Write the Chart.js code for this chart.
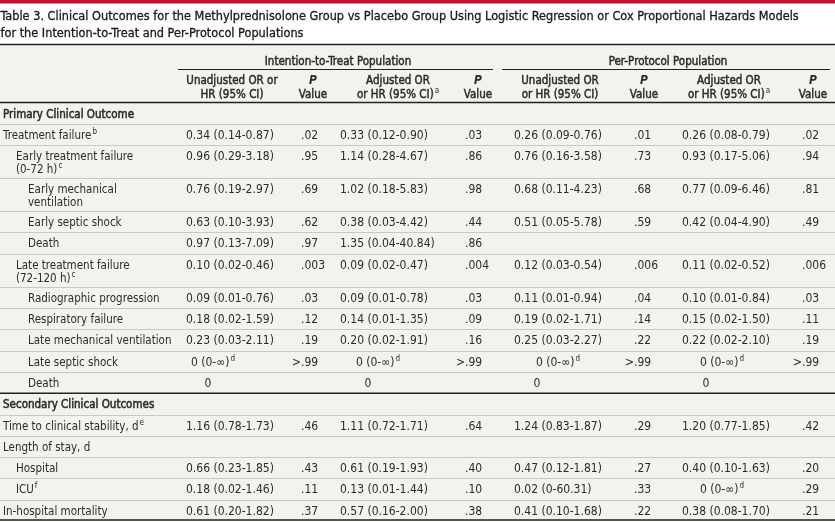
<!DOCTYPE html>
<html>
<head>
<meta charset="utf-8">
<script src="https://cdn.jsdelivr.net/npm/chart.js@4.4.1/dist/chart.umd.min.js"></script>
<style>
  body { margin: 0; background: #fff; }
  canvas { display: block; }
</style>
</head>
<body>
<canvas id="tableChart" width="835" height="522"></canvas>
<script>
// Table contents
const titleLines = [
    "Table 3. Clinical Outcomes for the Methylprednisolone Group vs Placebo Group Using Logistic Regression or Cox Proportional Hazards Models",
    "for the Intention-to-Treat and Per-Protocol Populations"
];
const groupHeaders = ["Intention-to-Treat Population", "Per-Protocol Population"];
const columnHeaders = [
    ["Unadjusted OR or", "HR (95% CI)"], ["P", "Value"],
    ["Adjusted OR", "or HR (95% CI)^a"], ["P", "Value"],
    ["Unadjusted OR", "or HR (95% CI)"], ["P", "Value"],
    ["Adjusted OR", "or HR (95% CI)^a"], ["P", "Value"]
];

// row labels, "\n" = second line, "^x" = footnote mark
const rowLabels = [
    "Primary Clinical Outcome", "Treatment failure^b", "Early treatment failure\n(0-72 h)^c",
    "Early mechanical\nventilation", "Early septic shock", "Death",
    "Late treatment failure\n(72-120 h)^c", "Radiographic progression", "Respiratory failure",
    "Late mechanical ventilation", "Late septic shock", "Death",
    "Secondary Clinical Outcomes", "Time to clinical stability, d^e", "Length of stay, d",
    "Hospital", "ICU^f", "In-hospital mortality"
];
// -1 = section heading, 0..2 = indent level
const rowLevels = [-1, 0, 1, 2, 2, 2, 1, 2, 2, 2, 2, 2, -1, 0, 0, 1, 1, 0];

const ittUnadj = ["", "0.34 (0.14-0.87)", "0.96 (0.29-3.18)", "0.76 (0.19-2.97)", "0.63 (0.10-3.93)", "0.97 (0.13-7.09)",
    "0.10 (0.02-0.46)", "0.09 (0.01-0.76)", "0.18 (0.02-1.59)", "0.23 (0.03-2.11)", "0 (0-∞)^d", "0",
    "", "1.16 (0.78-1.73)", "", "0.66 (0.23-1.85)", "0.18 (0.02-1.46)", "0.61 (0.20-1.82)"];
const ittUnadjP = ["", ".02", ".95", ".69", ".62", ".97", ".003", ".03", ".12", ".19", ">.99", "",
    "", ".46", "", ".43", ".11", ".37"];
const ittAdj = ["", "0.33 (0.12-0.90)", "1.14 (0.28-4.67)", "1.02 (0.18-5.83)", "0.38 (0.03-4.42)", "1.35 (0.04-40.84)",
    "0.09 (0.02-0.47)", "0.09 (0.01-0.78)", "0.14 (0.01-1.35)", "0.20 (0.02-1.91)", "0 (0-∞)^d", "0",
    "", "1.11 (0.72-1.71)", "", "0.61 (0.19-1.93)", "0.13 (0.01-1.44)", "0.57 (0.16-2.00)"];
const ittAdjP = ["", ".03", ".86", ".98", ".44", ".86", ".004", ".03", ".09", ".16", ">.99", "",
    "", ".64", "", ".40", ".10", ".38"];
const ppUnadj = ["", "0.26 (0.09-0.76)", "0.76 (0.16-3.58)", "0.68 (0.11-4.23)", "0.51 (0.05-5.78)", "",
    "0.12 (0.03-0.54)", "0.11 (0.01-0.94)", "0.19 (0.02-1.71)", "0.25 (0.03-2.27)", "0 (0-∞)^d", "0",
    "", "1.24 (0.83-1.87)", "", "0.47 (0.12-1.81)", "0.02 (0-60.31)", "0.41 (0.10-1.68)"];
const ppUnadjP = ["", ".01", ".73", ".68", ".59", "", ".006", ".04", ".14", ".22", ">.99", "",
    "", ".29", "", ".27", ".33", ".22"];
const ppAdj = ["", "0.26 (0.08-0.79)", "0.93 (0.17-5.06)", "0.77 (0.09-6.46)", "0.42 (0.04-4.90)", "",
    "0.11 (0.02-0.52)", "0.10 (0.01-0.84)", "0.15 (0.02-1.50)", "0.22 (0.02-2.10)", "0 (0-∞)^d", "0",
    "", "1.20 (0.77-1.85)", "", "0.40 (0.10-1.63)", "0 (0-∞)^d", "0.38 (0.08-1.70)"];
const ppAdjP = ["", ".02", ".94", ".81", ".49", "", ".006", ".03", ".11", ".19", ">.99", "",
    "", ".42", "", ".20", ".29", ".21"];

const valueColumns = [ittUnadj, ittUnadjP, ittAdj, ittAdjP, ppUnadj, ppUnadjP, ppAdj, ppAdjP];

// ---- layout (in scale units, scales span the whole canvas) ----
const FONT = "'DejaVu Sans Condensed', 'DejaVu Sans', sans-serif";
const TEXT = "#2b2b2b";
const BEIGE = "#f3f2ed";
const headerBottom = 102.5;
const rowH1 = 21.3, rowH2 = 33;
const indentX = [3, 16, 28];
const colX = [186, 301, 340, 465, 514, 634, 682, 802]; // left edge / decimal point for P
const infCenter = [213, 378, 558, 722];
const zeroX = [208, 368, 537, 706];
const headCenter = [232, 313, 398, 478, 560, 644, 729, 813];

const rowTops = [];
let yAcc = headerBottom;
rowLabels.forEach((lab) => {
    rowTops.push(yAcc);
    yAcc += lab.includes("\n") ? rowH2 : rowH1;
});
rowTops.push(yAcc);

// text with optional "^sup" footnote mark; semi = fake semibold
function drawRich(ctx, str, x, y, align, font, supFont, semi) {
    const parts = str.split("^");
    const main = parts[0];
    const sup = parts[1] || "";
    ctx.font = font;
    const w1 = ctx.measureText(main).width;
    ctx.font = supFont;
    const w2 = sup ? ctx.measureText(sup).width + 1 : 0;
    let sx = x;
    if (align === "center") sx = x - (w1 + w2) / 2;
    ctx.textAlign = "left";
    ctx.font = font;
    ctx.fillText(main, sx, y);
    if (semi) {
        ctx.lineWidth = semi;
        ctx.strokeStyle = ctx.fillStyle;
        ctx.strokeText(main, sx, y);
    }
    if (sup) {
        ctx.font = supFont;
        ctx.fillText(sup, sx + w1 + 1, y - 5);
    }
}

const tablePlugin = {
    id: "tablePlugin",
    beforeDraw(chart) {
        const ctx = chart.ctx;
        const xs = chart.scales.x, ys = chart.scales.y;
        const px = (v) => xs.getPixelForValue(v);
        const py = (v) => ys.getPixelForValue(v);
        ctx.save();
        ctx.fillStyle = "#fff";
        ctx.fillRect(0, 0, chart.width, chart.height);
        ctx.fillStyle = BEIGE;
        ctx.fillRect(px(0), py(45), px(835) - px(0), py(522) - py(45));
        ctx.fillStyle = "#c4122f";
        ctx.fillRect(px(0), py(0), px(835) - px(0), py(3.5) - py(0));

        // title
        ctx.fillStyle = "#1a1a1a";
        ctx.textBaseline = "alphabetic";
        titleLines.forEach((t, i) => drawRich(ctx, t, px(0.5), py(20 + i * 17), "left", "12.6px " + FONT, "9px " + FONT, 0.3));

        // row separators
        ctx.strokeStyle = "#c9c8c3";
        ctx.lineWidth = 1;
        rowTops.forEach((t, i) => {
            if (i === 0 || i === 12 || i === rowTops.length - 1) return;
            ctx.beginPath();
            ctx.moveTo(px(0), Math.round(py(t)) + 0.5);
            ctx.lineTo(px(835), Math.round(py(t)) + 0.5);
            ctx.stroke();
        });
        // heavy rules
        ctx.strokeStyle = "#222";
        ctx.lineWidth = 1.4;
        [44.5, headerBottom, rowTops[12], rowTops[rowTops.length - 1] - 1].forEach((t) => {
            ctx.beginPath();
            ctx.moveTo(px(0), py(t));
            ctx.lineTo(px(835), py(t));
            ctx.stroke();
        });
        ctx.lineWidth = 1;
        [[178, 493], [502, 830]].forEach((seg) => {
            ctx.beginPath();
            ctx.moveTo(px(seg[0]), py(69) + 0.5);
            ctx.lineTo(px(seg[1]), py(69) + 0.5);
            ctx.stroke();
        });

        // headers
        ctx.fillStyle = TEXT;
        const hFont = "11.5px " + FONT;
        drawRich(ctx, groupHeaders[0], px(338), py(64.5), "center", hFont, "8px " + FONT, 0.45);
        drawRich(ctx, groupHeaders[1], px(668), py(64.5), "center", hFont, "8px " + FONT, 0.45);
        columnHeaders.forEach((lines, c) => {
            lines.forEach((l, k) => {
                const f = l === "P" ? "italic bold 12px " + FONT : hFont;
                drawRich(ctx, l, px(headCenter[c]), py(83.5 + k * 14.5), "center", f, "8px " + FONT, l === "P" ? 0 : 0.45);
            });
        });
        ctx.restore();
    },
    afterDatasetsDraw(chart) {
        const ctx = chart.ctx;
        ctx.save();
        ctx.fillStyle = TEXT;
        ctx.textBaseline = "alphabetic";
        const font = "12px " + FONT;
        const labelFont = "11.5px " + FONT;
        const supFont = "8px " + FONT;
        chart.data.datasets.forEach((ds, d) => {
            const meta = chart.getDatasetMeta(d);
            meta.data.forEach((pt, i) => {
                const txt = ds.texts[i];
                if (!txt) return;
                if (ds.kind === "label") {
                    const heading = rowLevels[i] < 0;
                    txt.split("\n").forEach((line, k) =>
                        drawRich(ctx, line, pt.x, pt.y + k * 13, "left", labelFont, supFont, heading ? 0.5 : 0));
                } else if (ds.kind === "p") {
                    ctx.font = font;
                    const pre = txt.slice(0, txt.indexOf("."));
                    drawRich(ctx, txt, pt.x - ctx.measureText(pre).width, pt.y, "left", font, supFont);
                } else if (txt === "0") {
                    drawRich(ctx, txt, chart.scales.x.getPixelForValue(zeroX[ds.col]), pt.y, "center", font, supFont);
                } else if (txt.startsWith("0 (")) {
                    drawRich(ctx, txt, chart.scales.x.getPixelForValue(infCenter[ds.col]), pt.y, "center", font, supFont);
                } else {
                    drawRich(ctx, txt, pt.x, pt.y, "left", font, supFont);
                }
            });
        });
        ctx.restore();
    }
};

const baseline = (i) => rowTops[i] + 15;

const datasets = [{
    kind: "label",
    texts: rowLabels,
    data: rowLabels.map((lab, i) => ({ x: indentX[Math.max(rowLevels[i], 0)], y: baseline(i) }))
}];
valueColumns.forEach((col, c) => {
    datasets.push({
        kind: c % 2 === 1 ? "p" : "value",
        col: c / 2,
        texts: col,
        data: col.map((v, i) => ({ x: colX[c], y: baseline(i) }))
    });
});

new Chart(document.getElementById("tableChart"), {
    type: "scatter",
    data: { datasets: datasets },
    options: {
        responsive: false,
        animation: false,
        events: [],
        layout: { padding: 0 },
        elements: { point: { radius: 0, hoverRadius: 0 } },
        plugins: { legend: { display: false }, tooltip: { enabled: false } },
        scales: {
            x: { type: "linear", min: 0, max: 835, display: false },
            y: { type: "linear", min: 0, max: 522, reverse: true, display: false }
        }
    },
    plugins: [tablePlugin]
});
</script>
</body>
</html>
